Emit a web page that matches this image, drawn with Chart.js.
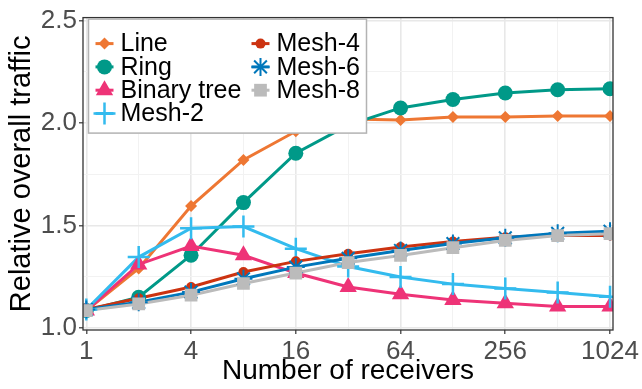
<!DOCTYPE html>
<html>
<head>
<meta charset="utf-8">
<script src="https://cdn.jsdelivr.net/npm/chart.js@4"></script>
<style>
  html, body { margin: 0; padding: 0; background: #ffffff; }
  #wrap { width: 642px; height: 389px; }
</style>
</head>
<body>
<div id="wrap"><canvas id="chart" width="642" height="389"></canvas></div>
<script>
// Number of receivers (x axis, log2 spacing)
const receivers = [1, 2, 4, 8, 16, 32, 64, 128, 256, 512, 1024];
const xTickLabels = [1, 4, 16, 64, 256, 1024];
const yTickLabels = [1.0, 1.5, 2.0, 2.5];

// Relative overall traffic per topology
const lineTraffic       = [1.085, 1.29, 1.595, 1.82, 1.96, 2.02, 2.015, 2.03, 2.03, 2.035, 2.035];
const ringTraffic       = [1.085, 1.15, 1.355, 1.612, 1.853, 1.99, 2.074, 2.115, 2.147, 2.163, 2.168];
const binaryTreeTraffic = [1.085, 1.31, 1.40, 1.355, 1.268, 1.20, 1.165, 1.136, 1.12, 1.105, 1.105];
const mesh2Traffic      = [1.09, 1.346, 1.487, 1.495, 1.387, 1.30, 1.249, 1.214, 1.193, 1.173, 1.152];
const mesh4Traffic      = [1.09, 1.145, 1.20, 1.273, 1.325, 1.362, 1.395, 1.422, 1.443, 1.453, 1.451];
const mesh6Traffic      = [1.09, 1.125, 1.175, 1.24, 1.297, 1.34, 1.378, 1.412, 1.44, 1.462, 1.472];
const mesh8Traffic      = [1.085, 1.117, 1.16, 1.217, 1.268, 1.319, 1.354, 1.392, 1.427, 1.451, 1.46];

const seriesNames  = ['Line', 'Ring', 'Binary tree', 'Mesh-2', 'Mesh-4', 'Mesh-6', 'Mesh-8'];
const seriesValues = [lineTraffic, ringTraffic, binaryTreeTraffic, mesh2Traffic, mesh4Traffic, mesh6Traffic, mesh8Traffic];

// Look of each series
const seriesColors = ['#EE7733', '#009988', '#EE3377', '#33BBEE', '#CC3311', '#0077BB', '#BBBBBB'];
const pointStyles  = ['rectRot', 'circle', 'triangle', 'cross', 'circle', 'star', 'rect'];
const pointSizes   = [6, 7.5, 10, 11, 5, 9, 9];
const strokeWidths = [0, 0, 0, 2.5, 0, 2, 0];

const FONT = "'Liberation Sans', Arial, Helvetica, sans-serif";

const toPoints = vals => receivers.map((r, i) => ({ x: r, y: vals[i] }));

// Lines first (underneath), then all markers on top of every line
const lineSets = seriesNames.map((name, i) => ({
  label: name,
  data: toPoints(seriesValues[i]),
  borderColor: seriesColors[i],
  borderWidth: 3,
  pointRadius: 0,
  fill: false,
  tension: 0,
  clip: 0,
  order: 100 - i
}));
const pointSets = seriesNames.map((name, i) => ({
  label: name + ' points',
  data: toPoints(seriesValues[i]),
  showLine: false,
  pointStyle: pointStyles[i],
  pointRadius: pointSizes[i],
  pointBackgroundColor: seriesColors[i],
  pointBorderColor: seriesColors[i],
  pointBorderWidth: strokeWidths[i],
  clip: 0,
  order: 10 - i
}));

const isMajorX = v => xTickLabels.includes(v);
const isMajorY = v => Math.abs(v * 2 - Math.round(v * 2)) < 1e-6;

// Panel border drawn above the data
const panelBorder = {
  id: 'panelBorder',
  afterDatasetsDraw(chart) {
    const { ctx, chartArea: a } = chart;
    ctx.save();
    ctx.strokeStyle = '#333333';
    ctx.lineWidth = 1.3;
    ctx.strokeRect(a.left, a.top, a.right - a.left, a.bottom - a.top);
    ctx.restore();
  }
};

// Two-column legend inside the panel, top-left
const boxLegend = {
  id: 'boxLegend',
  afterDraw(chart) {
    const { ctx, chartArea: a } = chart;
    const x0 = a.left + 5.5, y0 = a.top + 1.5, w = 278, h = 114;
    ctx.save();
    ctx.fillStyle = '#ffffff';
    ctx.fillRect(x0, y0, w, h);
    ctx.strokeStyle = '#b3b3b3';
    ctx.lineWidth = 1.5;
    ctx.strokeRect(x0, y0, w, h);
    ctx.font = '25px ' + FONT;
    ctx.textBaseline = 'middle';
    ctx.fillStyle = '#000000';
    seriesNames.forEach((name, i) => {
      const col = i < 4 ? 0 : 1;
      const row = i < 4 ? i : i - 4;
      const kx = x0 + (col === 0 ? 16 : 172);
      const ky = y0 + 24.5 + row * 23.3;
      ctx.strokeStyle = seriesColors[i];
      ctx.lineWidth = 3;
      ctx.beginPath();
      ctx.moveTo(kx - 9, ky);
      ctx.lineTo(kx + 9, ky);
      ctx.stroke();
      ctx.fillStyle = seriesColors[i];
      ctx.lineWidth = strokeWidths[i] || 1;
      Chart.helpers.drawPoint(ctx, { pointStyle: pointStyles[i], radius: pointSizes[i], rotation: 0, borderWidth: strokeWidths[i] }, kx, ky);
      ctx.fillStyle = '#000000';
      ctx.fillText(name, kx + 16, ky + 1);
    });
    ctx.restore();
  }
};

new Chart(document.getElementById('chart'), {
  type: 'line',
  data: { datasets: [...lineSets, ...pointSets] },
  options: {
    responsive: false,
    animation: false,
    events: [],
    layout: { padding: { left: 0, top: 16, right: 29, bottom: 0 } },
    plugins: { legend: { display: false }, tooltip: { enabled: false } },
    scales: {
      x: {
        type: 'logarithmic',
        min: 0.957,
        max: 1065,
        afterBuildTicks: s => { s.ticks = receivers.map(v => ({ value: v })); },
        afterFit: s => { s.height = 59; },
        ticks: {
          autoSkip: false,
          maxRotation: 0,
          padding: 2,
          color: '#4d4d4d',
          font: { family: FONT, size: 26 },
          callback: v => (isMajorX(v) ? String(v) : '')
        },
        grid: {
          color: c => (c.tick && isMajorX(c.tick.value) ? '#e8e8e8' : '#f2f2f2'),
          lineWidth: c => (c.tick && isMajorX(c.tick.value) ? 1.6 : 1),
          tickColor: c => (c.tick && isMajorX(c.tick.value) ? '#333333' : 'rgba(0,0,0,0)'),
          tickLength: 4,
          tickWidth: 1.2
        },
        border: { display: false },
        title: {
          display: true,
          text: 'Number of receivers',
          color: '#000000',
          font: { family: FONT, size: 28 },
          padding: { top: 0, bottom: 1 }
        }
      },
      y: {
        type: 'linear',
        min: 0.99,
        max: 2.515,
        afterBuildTicks: s => { s.ticks = [1.0, 1.25, 1.5, 1.75, 2.0, 2.25, 2.5].map(v => ({ value: v })); },
        afterFit: s => { s.width = 83; },
        ticks: {
          autoSkip: false,
          padding: 2,
          color: '#4d4d4d',
          font: { family: FONT, size: 26 },
          callback: v => (yTickLabels.some(t => Math.abs(t - v) < 1e-6) ? v.toFixed(1) : '')
        },
        grid: {
          color: c => (c.tick && isMajorY(c.tick.value) ? '#e8e8e8' : '#f2f2f2'),
          lineWidth: c => (c.tick && isMajorY(c.tick.value) ? 1.6 : 1),
          tickColor: c => (c.tick && isMajorY(c.tick.value) ? '#333333' : 'rgba(0,0,0,0)'),
          tickLength: 4,
          tickWidth: 1.2
        },
        border: { display: false },
        title: {
          display: true,
          text: 'Relative overall traffic',
          color: '#000000',
          font: { family: FONT, size: 29 },
          padding: { top: 5, bottom: 0 }
        }
      }
    }
  },
  plugins: [panelBorder, boxLegend]
});
</script>
</body>
</html>
